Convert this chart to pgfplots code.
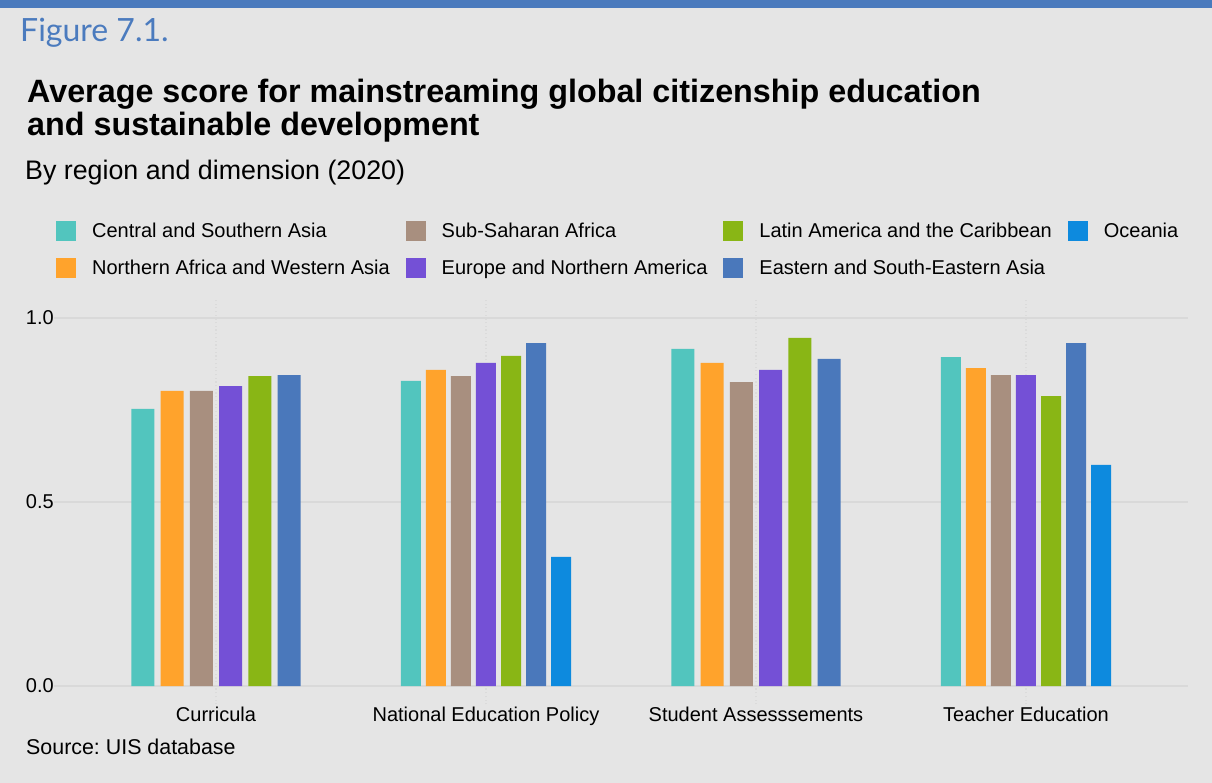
\documentclass[border=0pt]{standalone}
\usepackage{fontspec}
\setmainfont{Liberation Sans}
\newfontfamily\latofont{Lato}
\usepackage{pgfplots}
\pgfplotsset{compat=1.18}
\definecolor{bgc}{HTML}{E5E5E5}
\definecolor{topblue}{HTML}{4A7ABD}
\definecolor{figblue}{HTML}{4B7BBE}
\definecolor{gridc}{HTML}{D9D9D9}
\definecolor{vgridc}{HTML}{DBDBDB}
\definecolor{cTeal}{HTML}{52C5BE}
\definecolor{cOrange}{HTML}{FFA32C}
\definecolor{cBrown}{HTML}{A88F7F}
\definecolor{cPurple}{HTML}{7450D6}
\definecolor{cGreen}{HTML}{89B615}
\definecolor{cBlue}{HTML}{4A78BB}
\definecolor{cOcean}{HTML}{0D8ADE}
\frenchspacing
\begin{document}
\begin{tikzpicture}
\useasboundingbox (0,0) rectangle (1212pt,-783pt);
\fill[bgc] (0,0) rectangle (1212pt,-783pt);
\fill[topblue] (0,0) rectangle (1212pt,-8.3pt);
\begin{axis}[
  at={(54pt,-704.4pt)}, anchor=south west,
  width=1134pt, height=404.8pt, scale only axis,
  xmin=0.4, xmax=4.6, ymin=-0.05, ymax=1.05,
  axis line style={draw=none},
  major tick length=0pt,
  xtick={1,2,3,4},
  xticklabels={Curricula, National Education Policy, Student Assesssements, Teacher Education},
  ytick={0,0.5,1},
  /pgf/number format/fixed, /pgf/number format/fixed zerofill, /pgf/number format/precision=1,
  /pgf/number format/assume math mode=true,
  every tick label/.append style={font=\fontsize{20}{24}\selectfont, text=black},
  xticklabel style={anchor=base, yshift=-17.3pt},
  yticklabel style={anchor=east, inner sep=0pt, xshift=0pt},
  xmajorgrids, ymajorgrids,
  x grid style={vgridc, line width=1.2pt, dash pattern=on 1.2pt off 2.5pt},
  y grid style={gridc, line width=1.3pt},
  legend image code/.code={\fill[#1, draw=none] (0pt,-10pt) rectangle (20pt,10pt);},
  legend columns=4,
  legend cell align=left,
  legend style={draw=none, fill=none, inner sep=0pt, column sep=16pt, row sep=17pt,
    nodes={inner sep=0pt, text height=16.5pt, text depth=3.5pt, font=\fontsize{20}{24}\selectfont},
    at={(axis description cs:0.00176,1.1942)}, anchor=north west},
  six/.style={ybar, bar width=0.0852, bar shift=0pt, draw=none, forget plot},
  seven/.style={ybar, bar width=0.0741, bar shift=0pt, draw=none, forget plot},
]
% legend (row-wise: CSA, SSA, LAC, Oceania / NAWA, ENA, ESEA)
\addlegendimage{fill=cTeal}\addlegendentry{Central and Southern Asia}
\addlegendimage{fill=cBrown}\addlegendentry{Sub-Saharan Africa}
\addlegendimage{fill=cGreen}\addlegendentry{Latin America and the Caribbean}
\addlegendimage{fill=cOcean}\addlegendentry{Oceania}
\addlegendimage{fill=cOrange}\addlegendentry{Northern Africa and Western Asia}
\addlegendimage{fill=cPurple}\addlegendentry{Europe and Northern America}
\addlegendimage{fill=cBlue}\addlegendentry{Eastern and South-Eastern Asia}
% groups with 6 bars: Curricula (1), Student Assessments (3)
\addplot[six, fill=cTeal]   coordinates {(0.7292,0.753) (2.7292,0.916)};
\addplot[six, fill=cOrange] coordinates {(0.8375,0.802) (2.8375,0.878)};
\addplot[six, fill=cBrown]  coordinates {(0.9458,0.802) (2.9458,0.826)};
\addplot[six, fill=cPurple] coordinates {(1.0542,0.815) (3.0542,0.859)};
\addplot[six, fill=cGreen]  coordinates {(1.1625,0.842) (3.1625,0.946)};
\addplot[six, fill=cBlue]   coordinates {(1.2708,0.845) (3.2708,0.889)};
% groups with 7 bars: National Education Policy (2), Teacher Education (4)
\addplot[seven, fill=cTeal]   coordinates {(1.7214,0.829) (3.7214,0.894)};
\addplot[seven, fill=cOrange] coordinates {(1.8143,0.859) (3.8143,0.864)};
\addplot[seven, fill=cBrown]  coordinates {(1.9071,0.842) (3.9071,0.845)};
\addplot[seven, fill=cPurple] coordinates {(2.0000,0.878) (4.0000,0.845)};
\addplot[seven, fill=cGreen]  coordinates {(2.0929,0.897) (4.0929,0.788)};
\addplot[seven, fill=cBlue]   coordinates {(2.1857,0.932) (4.1857,0.932)};
\addplot[seven, fill=cOcean]  coordinates {(2.2786,0.351) (4.2786,0.601)};
\end{axis}
\node[anchor=base west, inner sep=0pt, text=figblue, font=\latofont\fontsize{32}{38}\selectfont] at (20pt,-41.7pt) {Figure 7.1.};
\node[anchor=base west, inner sep=0pt, font=\bfseries\fontsize{32.3}{38}\selectfont] at (27pt,-102.7pt) {Average score for mainstreaming global citizenship education};
\node[anchor=base west, inner sep=0pt, font=\bfseries\fontsize{32.3}{38}\selectfont] at (27pt,-136pt) {and sustainable development};
\node[anchor=base west, inner sep=0pt, font=\fontsize{26.8}{32}\selectfont] at (25pt,-179.5pt) {By region and dimension (2020)};
\node[anchor=base west, inner sep=0pt, font=\fontsize{21.4}{26}\selectfont] at (26pt,-754pt) {Source: UIS database};
\end{tikzpicture}
\end{document}
